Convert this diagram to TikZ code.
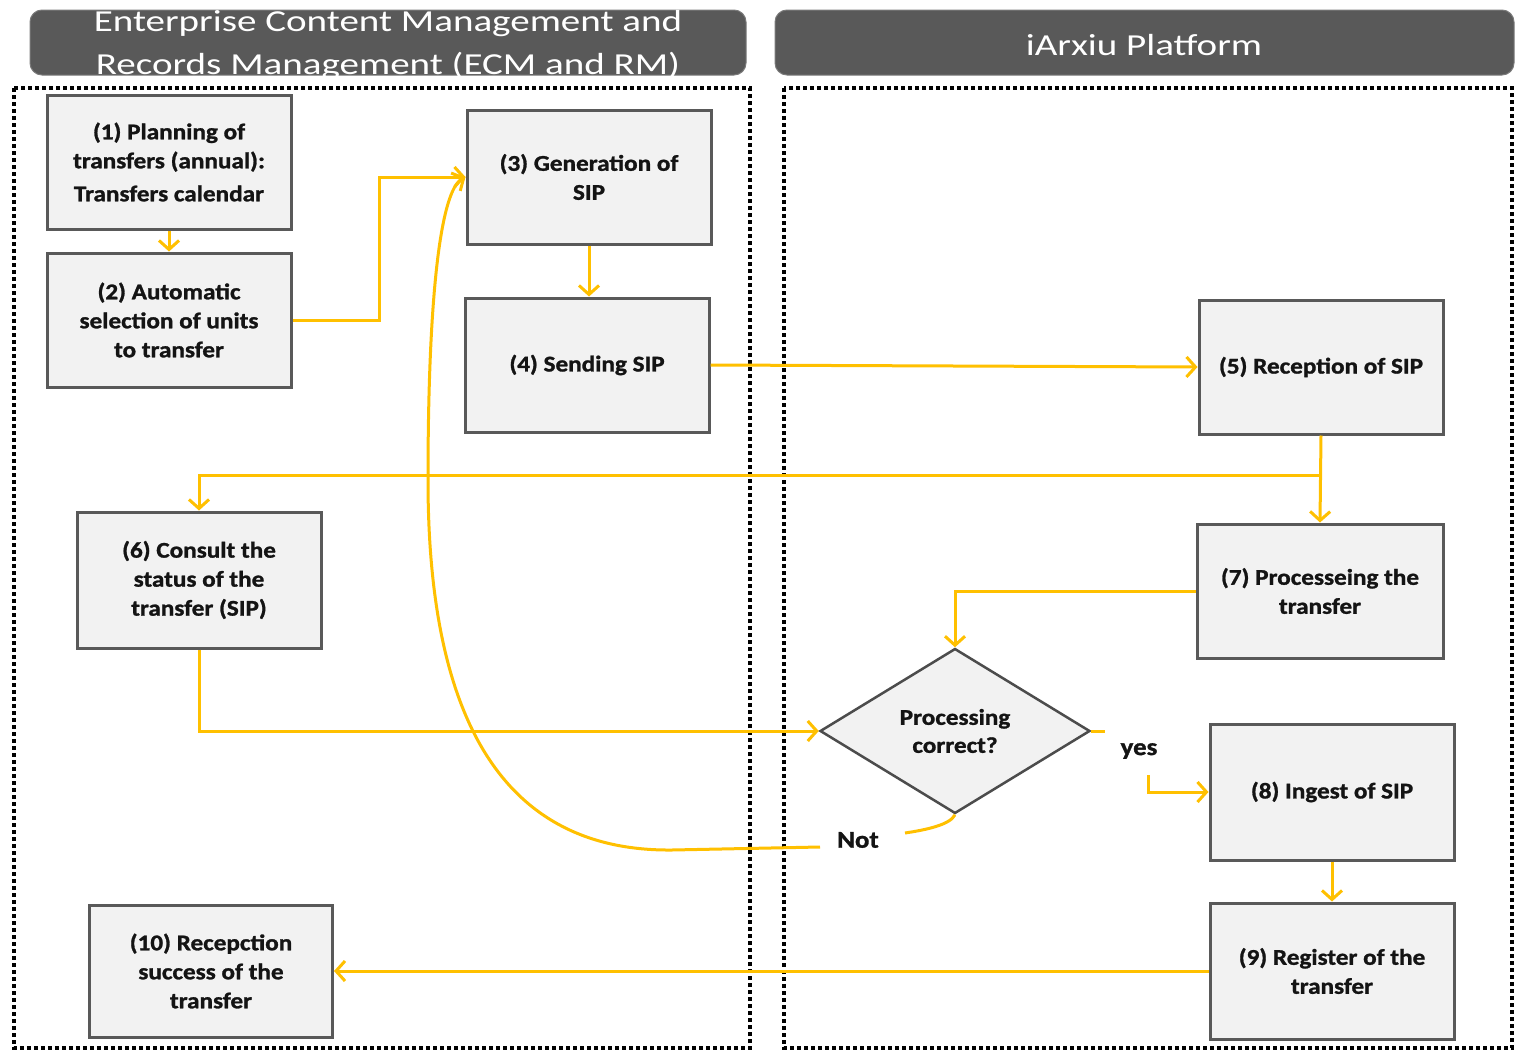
\documentclass[tikz,border=0pt]{standalone}
\usepackage{fontspec}
\setmainfont{Carlito}
\newfontfamily\hdrfont{Carlito}[FakeStretch=1.28]
\newfontfamily\boxfont{Carlito}[FakeStretch=1.12,FakeBold=1.2]
\usetikzlibrary{arrows.meta,shapes.geometric,calc}
\definecolor{gold}{HTML}{FFC000}
\definecolor{boxfill}{HTML}{F2F2F2}
\definecolor{boxline}{HTML}{595959}
\definecolor{hdrfill}{HTML}{595959}
\definecolor{txt}{HTML}{141414}
\begin{document}
\begin{tikzpicture}[x=1pt,y=-1pt,
  stepbox/.style={draw=boxline, line width=3pt, fill=boxfill, minimum width=244pt,
    minimum height=134pt, inner sep=0pt, align=center, text=txt,
    font=\boxfont\bfseries\fontsize{22.5}{29}\selectfont},
  decision/.style={diamond, draw=boxline!85!black, line width=2.5pt, fill=boxfill,
    minimum width=270pt, minimum height=165pt, aspect=1.636, inner sep=0pt,
    align=center, text=txt, font=\boxfont\bfseries\fontsize{22.5}{28}\selectfont},
  header/.style={fill=hdrfill, rounded corners=12pt, draw=hdrfill!80!white, line width=1pt},
  hdrtext/.style={text=white, align=center, font=\hdrfont\fontsize{30.5}{43}\selectfont, inner sep=0pt},
  lane/.style={draw=black, line width=4pt, dash pattern=on 4pt off 3pt},
  flow/.style={draw=gold, line width=3pt},
  arr/.style={flow, -{Straight Barb[length=9pt,width=20pt,line width=3pt]}},
  lbl/.style={text=txt, inner sep=0pt, font=\boxfont\bfseries\fontsize{24}{28}\selectfont}
]
\useasboundingbox (0,0) rectangle (1516,1052);
\fill[white] (0,0) rectangle (1516,1052);

% headers
\path[header] (30,10) rectangle (746,75);
\path[header] (775,10) rectangle (1514,75);
\node[hdrtext] (h1) at (388,45) {Enterprise Content Management and\\Records Management (ECM and RM)};
\node[hdrtext] (h2) at (1144,45) {iArxiu Platform};

% lanes
\path[lane] (14,88) rectangle (750,1048);
\path[lane] (784,88) rectangle (1512,1048);

% boxes
\node[stepbox] (b1) at (169,162) {(1) Planning of\\transfers (annual):\\[4pt]Transfers calendar};
\node[stepbox] (b2) at (169,320) {(2) Automatic\\selection of units\\to transfer};
\node[stepbox] (b3) at (589,177) {(3) Generation of\\SIP};
\node[stepbox] (b4) at (587,365) {(4) Sending SIP};
\node[stepbox] (b5) at (1321,367) {(5) Reception of SIP};
\node[stepbox, minimum height=136pt] (b6) at (199,580) {(6) Consult the\\status of the\\transfer (SIP)};
\node[stepbox, minimum width=246pt] (b7) at (1320,591) {(7) Processeing the\\transfer};
\node[decision] (dia) at (955,731) {Processing\\correct?};
\node[stepbox, minimum height=136pt] (b8) at (1332,792) {(8) Ingest of SIP};
\node[stepbox, minimum height=136pt] (b9) at (1332,971) {(9) Register of the\\transfer};
\node[stepbox, minimum width=243pt, minimum height=132pt] (b10) at (211,971) {(10) Recepction\\success of the\\transfer};

\node[lbl] (yes) at (1139,751) {yes};
\node[lbl] (not) at (858,840) {Not};

% connectors
\draw[arr] (b1.south) -- (b2.north);
\draw[arr] (b2.east) -- ++(87,0) |- (b3.west);
\draw[arr] (b3.south) -- (b3.south |- b4.north);
\draw[arr] (b4.east) -- (b5.west);
\draw[arr] (b5.south) -- (b7.north);
\coordinate (j57) at ($(b5.south)+(0,40)$);
\draw[arr] (j57) -| (b6.north);
\draw[arr] (b7.west) -| (dia.north);
\draw[arr] (b6.south) |- (dia.west);
\coordinate (yesA) at (1105,731);
\draw[flow] (dia.east) -- (yesA);
\coordinate (yesB) at (1148,775);
\draw[arr] (yesB) |- (b8.west);
\draw[arr] (b8.south) -- (b9.north);
\draw[arr] (b9.west) -- (b10.east);
\coordinate (notA) at (905,833);
\draw[flow] (dia.south) .. controls (950,825) and (925,830) .. (notA);
\coordinate (notB) at (820,847);
\coordinate (notC) at (672,850);
\draw[arr] (notB) -- (notC) .. controls (480,852) and (428,680) .. (428,480)
  .. controls (428,300) and (440,190) .. (b3.west);
\end{tikzpicture}
\end{document}
